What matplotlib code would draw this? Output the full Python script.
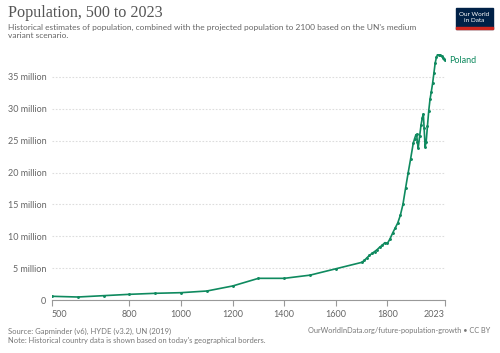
import matplotlib
matplotlib.use("Agg")
import matplotlib.pyplot as plt
from matplotlib.patches import Rectangle

years = [500, 600, 700, 800, 900, 1000, 1100, 1200, 1300, 1400, 1500, 1600, 1700,
         1710, 1720, 1730, 1740, 1750, 1760, 1770, 1780, 1790, 1800, 1810, 1820,
         1830, 1840, 1850, 1860, 1870, 1880, 1890, 1900, 1905, 1910, 1913, 1916,
         1919, 1925, 1930, 1935, 1939, 1942, 1946, 1950, 1955, 1960, 1965, 1970,
         1975, 1980, 1985, 1990, 1995, 2000, 2005, 2010, 2015, 2020, 2023]
population_m = [0.58, 0.47, 0.68, 0.89, 1.05, 1.15, 1.41, 2.2, 3.4, 3.4, 3.9, 4.9, 5.9,
                6.2, 6.6, 7.0, 7.3, 7.6, 7.9, 8.3, 8.6, 9.0, 8.9, 9.6, 10.5,
                11.3, 12.1, 13.3, 15.0, 17.5, 19.9, 22.2, 24.6, 25.3, 25.9, 26.0, 24.8,
                23.8, 25.8, 27.4, 28.6, 29.2, 27.0, 24.0, 24.8, 27.3, 29.7, 31.5, 32.7,
                34.0, 35.6, 37.2, 38.1, 38.6, 38.5, 38.4, 38.3, 38.0, 37.85, 37.6]
series_name = "Poland"
xticks = [500, 800, 1000, 1200, 1400, 1600, 1800, 2023]
yticks = [0, 5, 10, 15, 20, 25, 30, 35]
ytick_labels = ["0"] + [f"{v} million" for v in yticks[1:]]

title = "Population, 500 to 2023"
subtitle = ("Historical estimates of population, combined with the projected population to 2100 based on the UN's medium\n"
            "variant scenario.")
source = "Source: Gapminder (v6), HYDE (v3.2), UN (2019)"
note = "Note: Historical country data is shown based on today's geographical borders."
url = "OurWorldInData.org/future-population-growth • CC BY"

W, H = 500, 353
fig = plt.figure(figsize=(W / 100, H / 100), dpi=100)
plt.rcParams['font.family'] = ['Lato', 'DejaVu Sans']

color = "#0f8a5f"
gray = "#666666"

ax = fig.add_axes([52 / W, 1 - 300 / H, (445 - 52) / W, (300 - 54) / H])
ax.plot(years, population_m, color=color, lw=1.2, marker="o", ms=1.1,
        solid_joinstyle="round")
ax.set_xlim(500, 2023)
ax.set_ylim(0, max(population_m))

for s in ["top", "right", "left"]:
    ax.spines[s].set_visible(False)
ax.spines["bottom"].set_color("#999999")
ax.spines["bottom"].set_linewidth(0.8)

ax.set_yticks(yticks)
ax.set_yticklabels(ytick_labels)
ax.tick_params(axis="y", length=0, pad=4, labelsize=6.5, labelcolor=gray)
ax.yaxis.grid(True, color="#dddddd", linestyle=(0, (1.5, 1.5)), lw=0.8)
ax.set_axisbelow(True)

ax.set_xticks(xticks)
ax.set_xticklabels([str(x) for x in xticks])
ax.tick_params(axis="x", length=4, width=0.8, color="#999999", pad=3,
               labelsize=6.5, labelcolor=gray)
lbls = ax.get_xticklabels()
lbls[0].set_ha("left")
lbls[-1].set_ha("right")

ax.annotate(series_name, xy=(years[-1], population_m[-1]), xytext=(3, 0),
            textcoords="offset points", color=color, fontsize=6.5,
            va="center", ha="left", annotation_clip=False)

fig.text(8 / W, 1 - 17 / H, title, family="Liberation Serif", fontsize=11.6,
         color="#555555", va="baseline")
fig.text(8 / W, 1 - 24 / H, subtitle, fontsize=6.05, color=gray, va="top",
         linespacing=1.2)

fig.text(8 / W, 1 - 331 / H, source, fontsize=5.5, color="#777777", va="center")
fig.text(8 / W, 1 - 341 / H, note, fontsize=5.4, color="#777777", va="center")
fig.text(490 / W, 1 - 331 / H, url, fontsize=5.3, color="#777777", va="center",
         ha="right")

# logo
lx0, ly0, lw_, lh_ = 456, 8, 37, 21
fig.patches.append(Rectangle((lx0 / W, 1 - (ly0 + lh_) / H), lw_ / W, lh_ / H,
                             transform=fig.transFigure, color="#002147", zorder=5))
fig.patches.append(Rectangle((lx0 / W, 1 - (ly0 + lh_) / H), lw_ / W, 1.5 / H,
                             transform=fig.transFigure, color="#ce261e", zorder=6))
fig.text((lx0 + lw_ / 2) / W, 1 - (ly0 + 9.5) / H, "Our World\nin Data",
         fontsize=4.6, color="white", ha="center", va="center",
         linespacing=1.0, zorder=7)

fig.savefig("out.png", dpi=100, facecolor="white")
